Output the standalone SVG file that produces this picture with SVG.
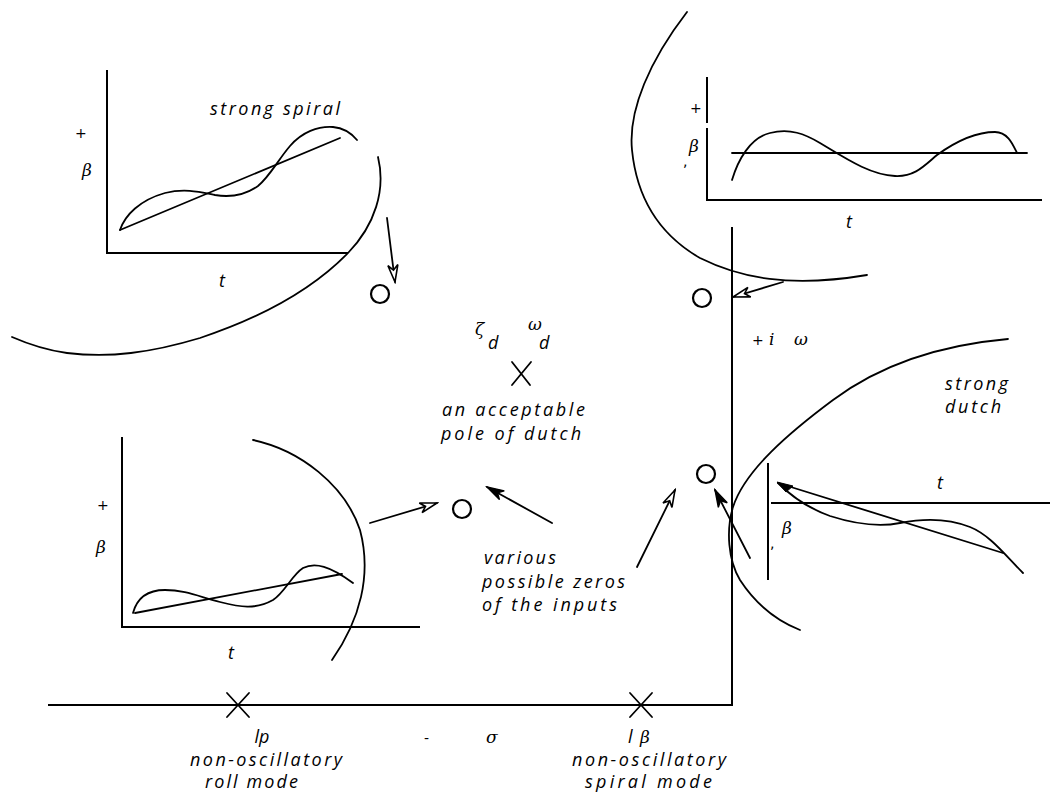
<svg xmlns="http://www.w3.org/2000/svg" width="1050" height="797" viewBox="0 0 1050 797">
<style>
.ln{fill:none;stroke:#000;stroke-width:1.8;stroke-linecap:round;stroke-linejoin:round}
.ax{fill:none;stroke:#000;stroke-width:2}
.zero{fill:none;stroke:#000;stroke-width:2.2}
.lbl{font-family:"Open Sans","DejaVu Sans",sans-serif;font-style:italic;font-size:18px;fill:#000}
.sym{font-family:"DejaVu Serif","Liberation Serif",serif;font-style:italic;font-size:17px;fill:#000}
.pl{font-family:"DejaVu Sans",sans-serif;font-size:14px;fill:#000}
</style>
<defs>
<marker id="open" markerUnits="userSpaceOnUse" markerWidth="20" markerHeight="14" viewBox="0 0 20 14" refX="18" refY="7" orient="auto">
<path d="M1,2 L18,7 L1,12 L6,7 z" fill="#fff" stroke="#000" stroke-width="1.6"/>
</marker>
<marker id="solid" markerUnits="userSpaceOnUse" markerWidth="20" markerHeight="14" viewBox="0 0 20 14" refX="18" refY="7" orient="auto">
<path d="M1,2 L18,7 L1,12 L6,7 z" fill="#000" stroke="#000" stroke-width="1.4"/>
</marker>
</defs>

<!-- main s-plane axes -->
<g id="s-plane">
<path class="ax" d="M732,227 L732,705 L48,705"/>
<text class="pl" x="752" y="345">+</text>
<text class="sym" x="769" y="345">i</text>
<text class="sym" x="794" y="345" font-style="normal">ω</text>
<text class="pl" x="424" y="743">-</text>
<text class="sym" x="486" y="743" font-style="normal">σ</text>
</g>

<!-- poles -->
<g id="pole-roll">
<path class="ln" d="M227,693 L249,717 M249,693 L227,717"/>
<text class="lbl" x="262" y="743" text-anchor="middle">lp</text>
<text class="lbl" x="190" y="766" textLength="152" lengthAdjust="spacing">non-oscillatory</text>
<text class="lbl" x="205" y="788" textLength="93" lengthAdjust="spacing">roll mode</text>
</g>
<g id="pole-spiral">
<path class="ln" d="M630,693 L652,717 M652,693 L630,717"/>
<text class="lbl" x="628" y="743">l</text>
<text class="sym" x="640" y="743">β</text>
<text class="lbl" x="572" y="766" textLength="154" lengthAdjust="spacing">non-oscillatory</text>
<text class="lbl" x="585" y="788" textLength="127" lengthAdjust="spacing">spiral mode</text>
</g>
<g id="pole-dutch">
<text class="sym" x="475" y="335">ζ</text>
<text class="lbl" x="488" y="349" font-size="16">d</text>
<text class="sym" x="528" y="330" font-style="normal" font-size="15">ω</text>
<text class="lbl" x="539" y="349" font-size="16">d</text>
<path class="ln" d="M512,362 L530,385 M531,362 L512,385"/>
<text class="lbl" x="442" y="416" textLength="143" lengthAdjust="spacing">an acceptable</text>
<text class="lbl" x="441" y="440" textLength="140" lengthAdjust="spacing">pole of dutch</text>
</g>

<!-- zeros -->
<g id="zero-spiral"><circle class="zero" cx="380" cy="294" r="9"/></g>
<g id="zero-dutch"><circle class="zero" cx="702" cy="298" r="9"/></g>
<g id="zero-left"><circle class="zero" cx="462" cy="509" r="9"/></g>
<g id="zero-right"><circle class="zero" cx="706" cy="474" r="9"/></g>
<g id="zeros-label">
<text class="lbl" x="484" y="564" textLength="72" lengthAdjust="spacing">various</text>
<text class="lbl" x="482" y="588" textLength="143" lengthAdjust="spacing">possible zeros</text>
<text class="lbl" x="482" y="611" textLength="135" lengthAdjust="spacing">of the inputs</text>
</g>

<!-- top-left chart: strong spiral -->
<g id="chart-strong-spiral">
<path class="ax" d="M107,70 L107,253 L348,253"/>
<text class="pl" x="75" y="138">+</text>
<text class="sym" x="82" y="176">β</text>
<text class="lbl" x="219" y="287">t</text>
<text class="lbl" x="210" y="115" textLength="130" lengthAdjust="spacing">strong spiral</text>
<path class="ln" d="M120,230 L340,138"/>
<path class="ln" d="M120,230 C125,215 140,200 165,193 C185,188 200,192 215,195 C232,198 245,195 258,186 C270,176 278,160 290,146 C302,132 318,126 333,127 C345,128 352,134 357,140"/>
<path class="ln" d="M378,157 C386,190 375,225 348,253 C310,292 260,318 200,338 C150,353 110,358 67,353 C45,350 28,344 12,337"/>
</g>

<!-- top-right chart: dutch -->
<g id="chart-dutch">
<path class="ax" d="M707,77 L707,123 M707,128 L707,200 L1042,200"/>
<text class="pl" x="690" y="113">+</text>
<text class="sym" x="689" y="152">β</text>
<text class="pl" x="683" y="166">,</text>
<text class="lbl" x="846" y="228">t</text>
<path class="ln" d="M732,153 L1027,153"/>
<path class="ln" d="M732,180 C738,160 750,138 770,133 C790,128 805,134 820,143 C845,158 870,175 895,176 C915,177 925,165 937,155 C955,142 975,132 995,132 C1008,132 1013,145 1017,153"/>
<path class="ln" d="M687,12 C650,60 628,110 632,150 C637,200 660,235 700,258 C740,278 790,288 867,275"/>
</g>

<!-- lower-right chart: strong dutch -->
<g id="chart-strong-dutch">
<path class="ax" d="M768,463 L768,580 M771,503 L1050,503"/>
<text class="lbl" x="937" y="489">t</text>
<text class="sym" x="782" y="534">β</text>
<text class="pl" x="770" y="548">,</text>
<text class="lbl" x="945" y="390" textLength="63" lengthAdjust="spacing">strong</text>
<text class="lbl" x="945" y="413" textLength="56" lengthAdjust="spacing">dutch</text>
<path class="ln" d="M778,483 L1003,553"/>
<path class="ln" d="M778,483 C790,495 805,507 830,516 C855,524 880,527 900,523 C920,519 945,517 970,527 C990,535 1005,555 1023,573"/>
<path d="M777,482 L793,486 L786,492 z" fill="#000" stroke="#000" stroke-width="1"/>
<path class="ln" d="M1008,339 C940,345 880,365 833,400 C790,432 745,470 733,507 C726,530 728,560 740,580 C755,603 775,620 800,630"/>
</g>

<!-- lower-left chart -->
<g id="chart-roll">
<path class="ax" d="M122,437 L122,627 L420,627"/>
<text class="pl" x="97" y="510">+</text>
<text class="sym" x="96" y="553">β</text>
<text class="lbl" x="228" y="659">t</text>
<path class="ln" d="M135,613 L342,574"/>
<path class="ln" d="M133,613 C137,598 148,590 165,590 C185,590 200,597 220,602 C240,607 255,610 273,600 C285,592 292,575 303,568 C315,562 330,566 353,583"/>
<path class="ln" d="M253,440 C300,450 345,485 360,530 C372,575 360,620 332,660"/>
</g>

<!-- connectors -->
<g id="connectors">
<path class="ln" d="M387,218 L395,282" marker-end="url(#open)"/>
<path class="ln" d="M783,282 L733,297" marker-end="url(#open)"/>
<path class="ln" d="M370,523 L437,503" marker-end="url(#open)"/>
<path class="ln" d="M552,523 L487,487" marker-end="url(#solid)"/>
<path class="ln" d="M637,567 L675,490" marker-end="url(#open)"/>
<path class="ln" d="M750,558 L715,490" marker-end="url(#solid)"/>
</g>
</svg>
